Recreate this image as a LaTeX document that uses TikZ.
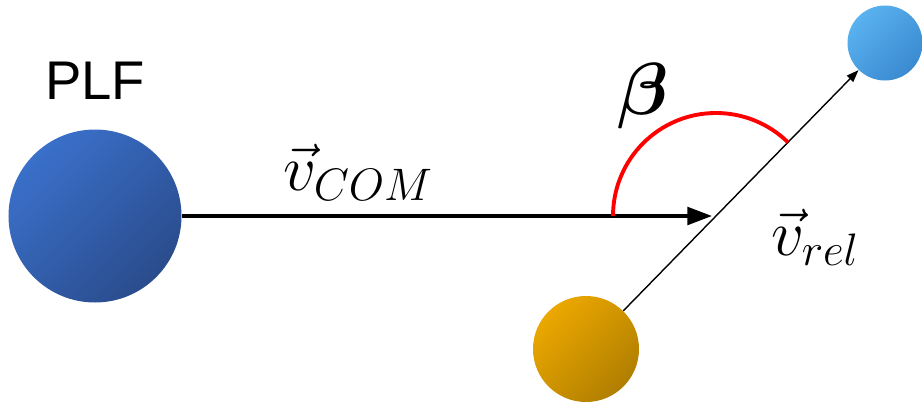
\RequirePackage{fix-cm}
\documentclass[tikz,border=0pt]{standalone}
\usepackage{amsmath,bm}
\usepackage{fontspec}
\newfontfamily\plffont{Liberation Sans}
\usetikzlibrary{arrows.meta,calc}
\definecolor{bigtop}{HTML}{3A70CA}
\definecolor{bigbot}{HTML}{2A4C8C}
\definecolor{fragtop}{HTML}{ECA800}
\definecolor{fragbot}{HTML}{B07E00}
\definecolor{prodtop}{HTML}{5AB2F0}
\definecolor{prodbot}{HTML}{3A8AD0}
\tikzset{
  ball/.style={circle,inner sep=0pt,minimum size=#1},
  mathlbl/.style={font=\fontsize{37}{42}\selectfont},
}
\begin{document}
\begin{tikzpicture}
\useasboundingbox (0,0) rectangle (18.44,8.04);
\node[ball=3.46cm,top color=bigtop,bottom color=bigbot,shading angle=45] (plf) at (1.9,3.72) {};
\node[ball=2.12cm,top color=fragtop,bottom color=fragbot,shading angle=45] (frag) at (11.72,1.06) {};
\node[ball=1.5cm,top color=prodtop,bottom color=prodbot,shading angle=45] (prod) at (17.7,7.18) {};
\coordinate (tip) at (14.24,3.72);
\draw[line width=2pt,-{Triangle[length=14pt,width=10pt]}] (plf) -- (tip);
\draw[line width=0.8pt,-{Triangle[length=7pt,width=5pt]}] (frag) -- (prod);
\coordinate (cross) at (intersection of plf.center--tip and frag.center--prod.center);
\draw[red,line width=2.2pt] ($(cross)+(180:2.06)$) arc[start angle=180,end angle=45.7,radius=2.06];
\node[font=\plffont\fontsize{31}{36}\selectfont] (plflbl) at (1.9,6.42) {PLF};
\node[font=\fontsize{42}{46}\selectfont] (beta) at (12.86,6.12) {$\bm{\beta}$};
\node[mathlbl] (vcom) at (7.16,4.6) {$\vec{v}_{COM}$};
\node[mathlbl] (vrel) at (16.3,3.3) {$\vec{v}_{rel}$};
\end{tikzpicture}
\end{document}
